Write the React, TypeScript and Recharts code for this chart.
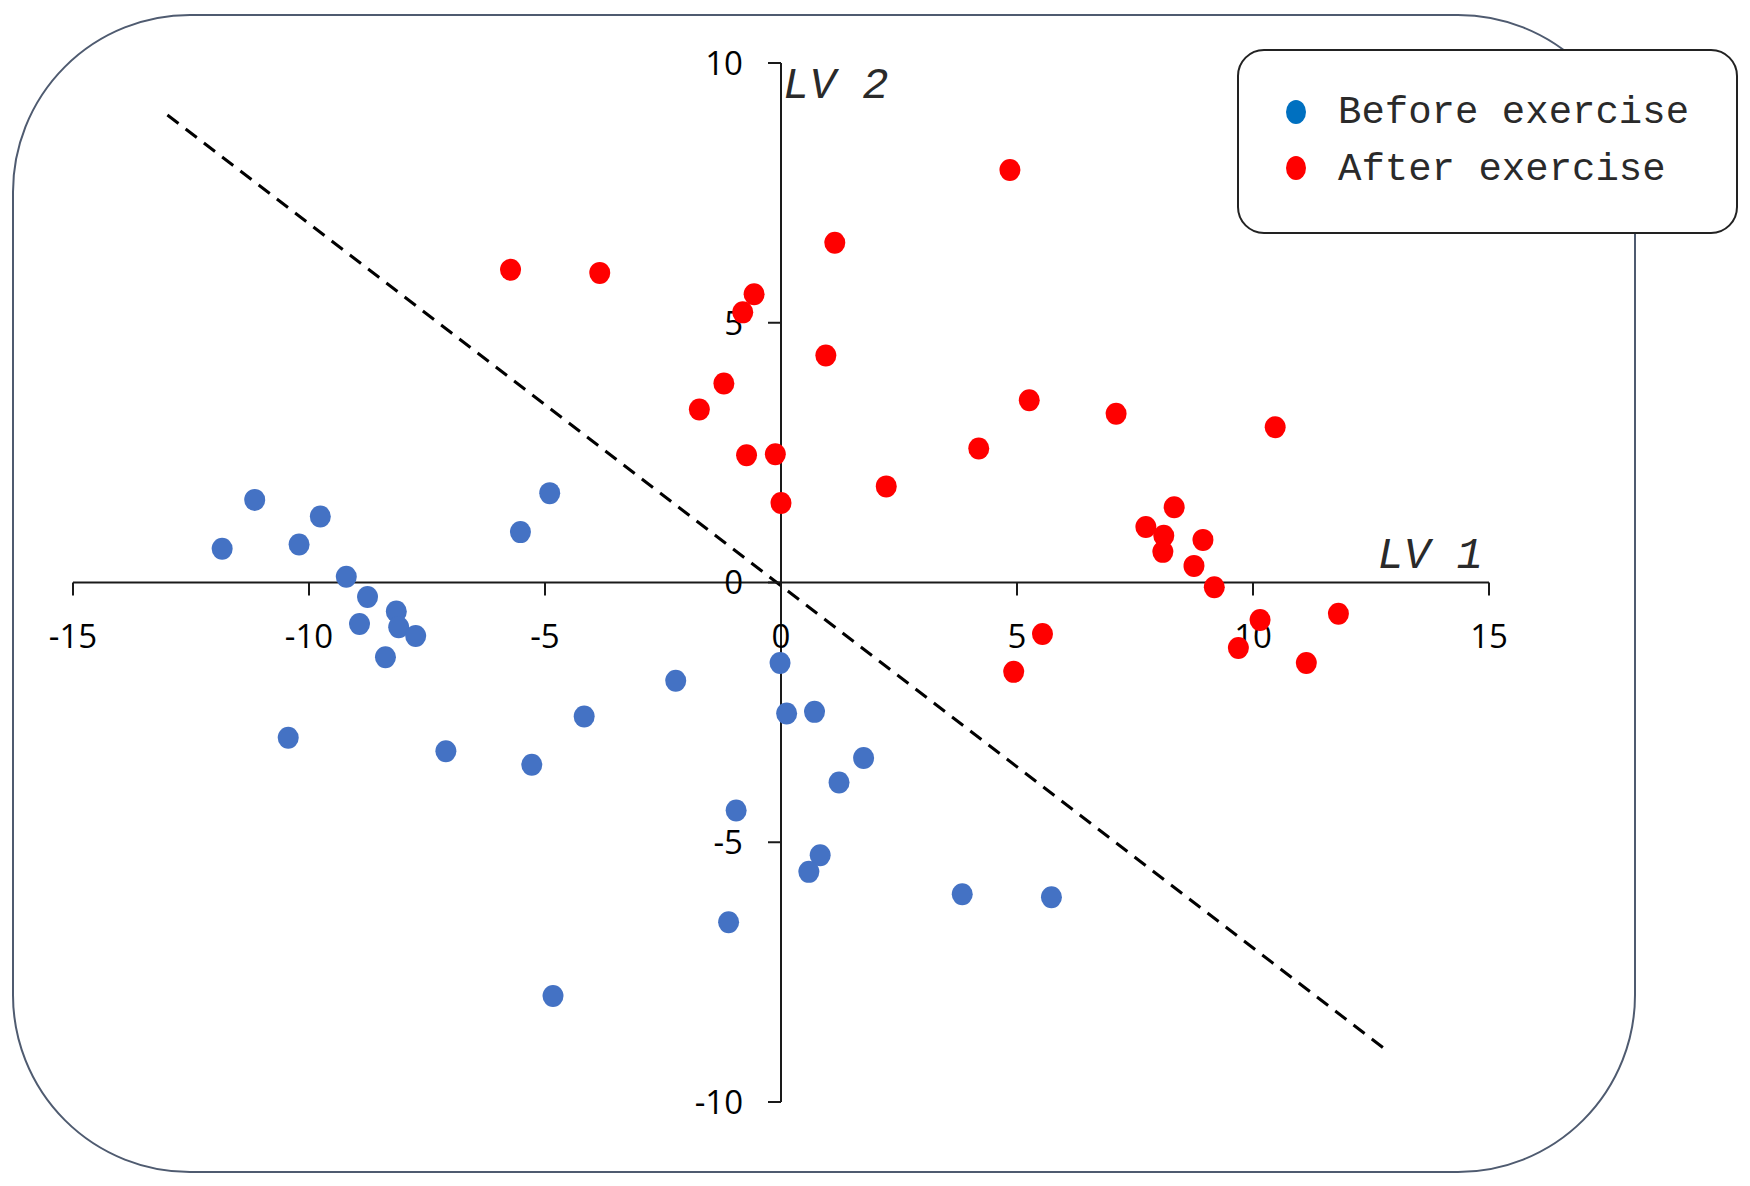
import {
  ScatterChart,
  Scatter,
  XAxis,
  YAxis,
  ReferenceLine,
  ReferenceDot,
  Legend,
} from 'recharts';

const BEFORE_COLOR = '#4472C4';
const AFTER_COLOR = '#FF0000';
const LEGEND_BLUE = '#0070C0';
const AXIS_COLOR = '#1a1a1a';
const TICK_FONT = '"Open Sans", "Noto Sans", sans-serif';
const MONO_FONT = '"Liberation Mono", "DejaVu Sans Mono", monospace';

const BEFORE_X = [
  -11.84, -11.15, -10.21, -9.76, -9.21, -8.76, -8.93, -8.15, -8.1, -7.74,
  -8.38, -10.44, -7.1, -5.28, -4.17, -5.52, -4.9, -2.23, -0.02, 0.12,
  0.71, 1.75, 1.23, -0.95, 0.83, 0.59, -1.11, -4.83, 3.84, 5.73,
];
const BEFORE_Y = [
  0.65, 1.59, 0.73, 1.27, 0.11, -0.28, -0.8, -0.56, -0.86, -1.03,
  -1.44, -2.99, -3.25, -3.51, -2.58, 0.97, 1.72, -1.89, -1.55, -2.52,
  -2.49, -3.38, -3.85, -4.39, -5.25, -5.57, -6.54, -7.96, -6.0, -6.06,
];

const AFTER_X = [
  -5.73, -3.84, -0.81, -0.57, 1.14, 4.85, 0.95, -1.21, -1.73, -0.73,
  -0.12, 0.0, 2.23, 4.19, 5.26, 7.1, 10.47, 8.33, 7.73, 8.11,
  8.94, 8.09, 8.75, 9.18, 10.15, 11.81, 5.54, 9.69, 11.13, 4.93,
];
const AFTER_Y = [
  6.02, 5.96, 5.2, 5.55, 6.54, 7.94, 4.37, 3.83, 3.33, 2.45,
  2.47, 1.53, 1.85, 2.58, 3.51, 3.25, 2.99, 1.45, 1.07, 0.9,
  0.82, 0.59, 0.32, -0.09, -0.72, -0.6, -0.99, -1.26, -1.55, -1.72,
];

const X_TICKS = [-15, -10, -5, 0, 5, 10, 15];
const Y_TICKS = [10, 5, 0, -5, -10];
const SERIES_NAMES = ['Before exercise', 'After exercise'];
const LEGEND_COLORS = [LEGEND_BLUE, AFTER_COLOR];

// separating line between the two groups
const DIVIDER = [
  { x: -13, y: 9 },
  { x: 12.85, y: -9.02 },
];

const beforeData = BEFORE_X.map((x, i) => ({ x, y: BEFORE_Y[i] }));
const afterData = AFTER_X.map((x, i) => ({ x, y: AFTER_Y[i] }));

function Dot({ cx, cy, fill }: any) {
  return <ellipse cx={cx} cy={cy} rx={10.5} ry={11} fill={fill} />;
}

function XTick({ cx, cy, value }: any) {
  return (
    <g>
      <line x1={cx} y1={cy} x2={cx} y2={cy + 13} stroke={AXIS_COLOR} strokeWidth={2} />
      <text
        x={cx}
        y={cy + 65}
        textAnchor="middle"
        fontFamily={TICK_FONT}
        fontSize={33}
        fill="#000"
      >
        {value}
      </text>
    </g>
  );
}

function YTick({ cx, cy, value }: any) {
  return (
    <g>
      <line x1={cx} y1={cy} x2={cx - 13} y2={cy} stroke={AXIS_COLOR} strokeWidth={2} />
      <text
        x={cx - 38}
        y={cy}
        dy="0.36em"
        textAnchor="end"
        fontFamily={TICK_FONT}
        fontSize={33}
        fill="#000"
      >
        {value}
      </text>
    </g>
  );
}

function AxisTitle({ cx, cy, text, dx, dy, anchor }: any) {
  return (
    <text
      x={cx + dx}
      y={cy + dy}
      textAnchor={anchor}
      fontFamily={MONO_FONT}
      fontStyle="italic"
      fontSize={44}
      fill="#2a2a2a"
    >
      {text}
    </text>
  );
}

function LegendBox() {
  return (
    <svg width={503} height={187} style={{ display: 'block' }}>
      <rect x={2} y={2} width={499} height={183} rx={26} ry={26} fill="#fff" stroke="#222" strokeWidth={2} />
      {SERIES_NAMES.map((name, i) => (
        <g key={name}>
          <ellipse cx={60} cy={64 + i * 56} rx={10} ry={12} fill={LEGEND_COLORS[i]} />
          <text x={102} y={75 + i * 57} fontFamily={MONO_FONT} fontSize={39} fill="#2a2a2a">
            {name}
          </text>
        </g>
      ))}
    </svg>
  );
}

export default function App() {
  return (
    <div style={{ position: 'absolute', left: 0, top: 0, width: 1750, height: 1186, background: '#fff' }}>
      <div
        style={{
          position: 'absolute',
          left: 12,
          top: 14,
          width: 1624,
          height: 1159,
          boxSizing: 'border-box',
          border: '2px solid #4f5b70',
          borderRadius: 178,
        }}
      />
      <ScatterChart
        width={1750}
        height={1186}
        margin={{ top: 63, right: 261, bottom: 84, left: 73 }}
      >
        <XAxis type="number" dataKey="x" domain={[-15, 15]} ticks={X_TICKS} hide />
        <YAxis type="number" dataKey="y" domain={[-10, 10]} ticks={Y_TICKS} hide />
        <ReferenceLine y={0} stroke={AXIS_COLOR} strokeWidth={2} />
        <ReferenceLine x={0} stroke={AXIS_COLOR} strokeWidth={2} />
        {X_TICKS.map((v) => (
          <ReferenceDot
            key={`x${v}`}
            x={v}
            y={0}
            r={0}
            shape={(p: any) => <XTick {...p} value={v} />}
          />
        ))}
        {Y_TICKS.map((v) => (
          <ReferenceDot
            key={`y${v}`}
            x={0}
            y={v}
            r={0}
            shape={(p: any) => <YTick {...p} value={v} />}
          />
        ))}
        <ReferenceDot
          x={15}
          y={0}
          r={0}
          shape={(p: any) => <AxisTitle {...p} text="LV 1" dx={-6} dy={-15} anchor="end" />}
        />
        <ReferenceDot
          x={0}
          y={10}
          r={0}
          shape={(p: any) => <AxisTitle {...p} text="LV 2" dx={2} dy={35} anchor="start" />}
        />
        <ReferenceLine
          segment={DIVIDER}
          stroke="#000"
          strokeWidth={3}
          strokeDasharray="14 9"
        />
        <Scatter
          name={SERIES_NAMES[0]}
          data={beforeData}
          fill={BEFORE_COLOR}
          shape={Dot}
          isAnimationActive={false}
        />
        <Scatter
          name={SERIES_NAMES[1]}
          data={afterData}
          fill={AFTER_COLOR}
          shape={Dot}
          isAnimationActive={false}
        />
        <Legend
          layout="horizontal"
          verticalAlign="middle"
          align="center"
          content={() => <LegendBox />}
          wrapperStyle={{ left: 1236, top: 48, width: 503, height: 187 }}
        />
      </ScatterChart>
    </div>
  );
}
